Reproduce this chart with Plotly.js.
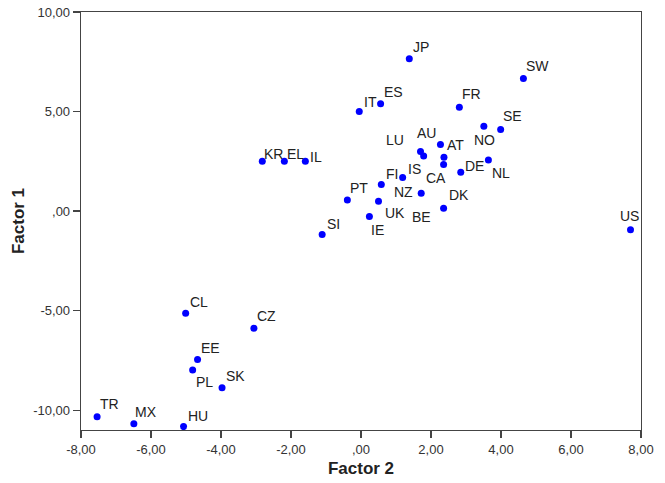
<!DOCTYPE html>
<html>
<head>
<meta charset="utf-8">
<script src="https://cdn.plot.ly/plotly-3.0.1.min.js"></script>
<style>html,body{margin:0;padding:0;background:#fff;}#chart{width:665px;height:483px;}</style>
</head>
<body>
<div id="chart"></div>
<script>
// Country codes
const countries = ["JP","SW","IT","ES","FR","SE","NO","KR","EL","IL","AU","LU","IS","AT","CA","DE","NL","FI","NZ","BE","UK","IE","DK","PT","SI","US","CL","CZ","EE","PL","SK","TR","MX","HU"];
// Factor 2 (horizontal)
const factor2 = [1.38,4.64,-0.05,0.56,2.81,3.99,3.51,-2.82,-2.19,-1.59,2.27,1.70,1.79,2.37,2.36,2.85,3.64,1.19,0.58,1.72,0.50,0.24,2.36,-0.39,-1.11,7.70,-5.01,-3.06,-4.67,-4.81,-3.97,-7.54,-6.49,-5.07];
// Factor 1 (vertical)
const factor1 = [7.65,6.66,5.00,5.39,5.21,4.10,4.26,2.50,2.50,2.50,3.34,2.99,2.76,2.70,2.34,1.95,2.57,1.68,1.33,0.89,0.49,-0.28,0.14,0.56,-1.18,-0.94,-5.14,-5.89,-7.46,-7.98,-8.88,-10.33,-10.68,-10.83];
// Label offsets in pixels (dx right, dy down) from each point
const labelDx = [12,14,11,13,12,12,1,11,11,11,-14,-26,-9,12,-8,14,13,-11,22,0,16,8,15,12,11,-1,13,13,13,12,13,12,12,14];
const labelDy = [-12,-12,-10,-12,-13,-13,14,-7,-7,-4,-12,-12,13,-12,14,-6,13,-4,7,24,12,13,-13,-12,-11,-14,-11,-12,-12,12,-12,-13,-12,-11];
// Axis ticks
const xTickVals = [-8,-6,-4,-2,0,2,4,6,8];
const xTickText = ["-8,00","-6,00","-4,00","-2,00",",00","2,00","4,00","6,00","8,00"];
const yTickVals = [-10,-5,0,5,10];
const yTickText = ["-10,00","-5,00",",00","5,00","10,00"];

const FONT = "Arial, 'Liberation Sans', sans-serif";

const trace = {
  type: "scatter",
  mode: "markers",
  x: factor2,
  y: factor1,
  text: countries,
  hoverinfo: "text",
  marker: {color: "#0000ff", size: 7, line: {width: 0}},
  showlegend: false
};

const annotations = countries.map((c, i) => ({
  x: factor2[i], y: factor1[i], xref: "x", yref: "y",
  text: c, showarrow: false,
  xanchor: "center", yanchor: "middle",
  xshift: labelDx[i], yshift: -labelDy[i],
  font: {family: FONT, size: 14, color: "#222"}
}));

const axisCommon = {
  showgrid: false, zeroline: false,
  showline: true, linecolor: "#444", linewidth: 1.3, mirror: true,
  ticks: "outside", ticklen: 7, tickwidth: 1.2, tickcolor: "#444",
  tickfont: {family: FONT, size: 13, color: "#333"}
};

const layout = {
  width: 665, height: 483,
  margin: {l: 81, r: 24, t: 12, b: 53},
  paper_bgcolor: "#fff", plot_bgcolor: "#fff",
  xaxis: Object.assign({}, axisCommon, {
    range: [-8, 8], tickvals: xTickVals, ticktext: xTickText,
    title: {text: "Factor 2", font: {family: FONT, size: 17, color: "#222", weight: "bold"}, standoff: 6}
  }),
  yaxis: Object.assign({}, axisCommon, {
    range: [-11, 10], tickvals: yTickVals, ticktext: yTickText,
    title: {text: "Factor 1", font: {family: FONT, size: 17, color: "#222", weight: "bold"}, standoff: 4}
  }),
  annotations: annotations
};

Plotly.newPlot("chart", [trace], layout, {staticPlot: true, displayModeBar: false});
</script>
</body>
</html>
